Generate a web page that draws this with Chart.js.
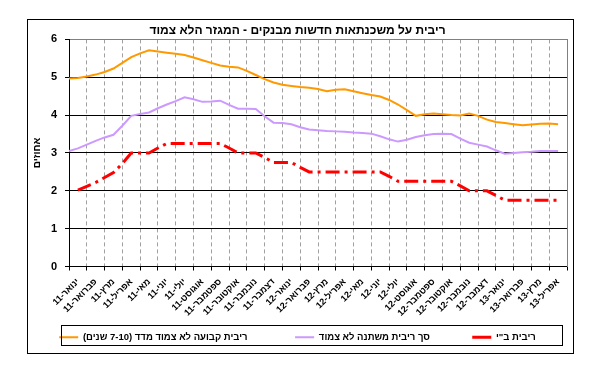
<!DOCTYPE html>
<html>
<head>
<meta charset="utf-8">
<script src="https://cdn.jsdelivr.net/npm/chart.js@4.4.1/dist/chart.umd.min.js"></script>
<style>
    html, body { margin: 0; padding: 0; background: #fff; }
    #wrap { position: relative; width: 602px; height: 372px; }
    #wrap canvas { position: absolute; left: 0; top: 0; }
    #frame { position: absolute; left: 27px; top: 19px; width: 547px; height: 335px; border: 1px solid #000; box-sizing: border-box; }
    #legendFrame { position: absolute; left: 61px; top: 325px; width: 502px; height: 21px; border: 1px solid #000; box-sizing: border-box; }
</style>
</head>
<body>
<div id="wrap">
    <canvas id="rateChart" width="602" height="372"></canvas>
    <div id="frame"></div>
    <div id="legendFrame"></div>
</div>
<script>
// Month categories (x axis)
const months = [
    'ינואר-11','פברואר-11','מרץ-11','אפריל-11','מאי-11','יוני-11','יולי-11','אוגוסט-11',
    'ספטמבר-11','אוקטובר-11','נובמבר-11','דצמבר-11','ינואר-12','פברואר-12','מרץ-12','אפריל-12',
    'מאי-12','יוני-12','יולי-12','אוגוסט-12','ספטמבר-12','אוקטובר-12','נובמבר-12','דצמבר-12',
    'ינואר-13','פברואר-13','מרץ-13','אפריל-13'
];

const seriesNames = ['ריבית קבועה לא צמוד מדד (7-10 שנים)', 'סך ריבית משתנה לא צמוד', 'ריבית ב"י'];

// readings twice a month, first one at the start of ינואר-11
const fixedRate = [
    4.97,4.98,5.02,5.07,5.14,5.23,5.38,5.53,5.63,5.71,
    5.68,5.65,5.62,5.59,5.52,5.45,5.38,5.31,5.28,5.26,
    5.17,5.06,4.95,4.86,4.80,4.77,4.74,4.72,4.69,4.63,
    4.67,4.68,4.63,4.58,4.53,4.49,4.40,4.28,4.13,3.98,
    4.02,4.04,4.02,4.00,3.99,4.04,3.98,3.88,3.82,3.79,
    3.76,3.73,3.75,3.77,3.78,3.76
];
const variableRate = [
    3.05,3.12,3.22,3.32,3.41,3.48,3.72,3.98,4.03,4.07,
    4.18,4.28,4.37,4.47,4.42,4.35,4.36,4.38,4.27,4.17,
    4.17,4.16,3.97,3.80,3.79,3.76,3.68,3.62,3.60,3.58,
    3.57,3.56,3.54,3.53,3.51,3.44,3.36,3.30,3.35,3.42,
    3.47,3.50,3.51,3.50,3.38,3.27,3.22,3.17,3.07,2.98,
    3.00,3.02,3.03,3.05,3.05,3.05
];
const boiRate = [
    null,2.02,2.12,2.22,2.35,2.48,2.72,3.00,3.00,3.00,
    3.13,3.25,3.25,3.25,3.25,3.25,3.25,3.25,3.13,3.00,
    3.00,3.00,2.88,2.75,2.75,2.75,2.62,2.50,2.50,2.50,
    2.50,2.50,2.50,2.50,2.50,2.50,2.38,2.25,2.25,2.25,
    2.25,2.25,2.25,2.25,2.13,2.00,2.00,2.00,1.88,1.75,
    1.75,1.75,1.75,1.75,1.75,1.75
];

const yMin = 0, yMax = 6, yStep = 1;

document.addEventListener('DOMContentLoaded', () => {
    const toPoints = arr => arr.map((v, i) => ({ x: i / 2, y: v }));
    const font = "Arial, 'Liberation Sans', sans-serif";
    Chart.defaults.font.family = font;
    Chart.defaults.color = '#000';

    // ticks at every month boundary (grid) and every month middle (label)
    const xTicks = [];
    for (let i = 0; i <= months.length; i++) {
        xTicks.push(i);
        if (i < months.length) xTicks.push(i + 0.5);
    }
    const isEdge = v => Number.isInteger(v);

    const gaps = [' '.repeat(15), ' '.repeat(13), ''];

    new Chart(document.getElementById('rateChart'), {
        type: 'line',
        data: {
            datasets: [
                { label: seriesNames[0], data: toPoints(fixedRate), borderColor: '#FF9900', borderWidth: 2 },
                { label: seriesNames[1], data: toPoints(variableRate), borderColor: '#CC99FF', borderWidth: 2 },
                { label: seriesNames[2], data: toPoints(boiRate), borderColor: '#FF0000', borderWidth: 3,
                  borderDash: [14, 5, 3, 5], borderCapStyle: 'butt' }
            ]
        },
        options: {
            responsive: false,
            animation: false,
            devicePixelRatio: 1,
            elements: { point: { radius: 0 }, line: { tension: 0, fill: false } },
            layout: { padding: { left: 28, right: 35, top: 23, bottom: 20 } },
            plugins: {
                tooltip: { enabled: false },
                title: {
                    display: true,
                    text: 'ריבית על משכנתאות חדשות מבנקים - המגזר הלא צמוד',
                    font: { size: 12, weight: 'bold' },
                    color: '#000',
                    padding: { top: 0, bottom: 2 }
                },
                legend: {
                    position: 'bottom',
                    textDirection: 'rtl',
                    labels: {
                        usePointStyle: true,
                        pointStyle: 'line',
                        pointStyleWidth: 19,
                        padding: 8,
                        font: { size: 9.5, weight: 'bold' },
                        color: '#000',
                        generateLabels: chart => {
                            const items = Chart.defaults.plugins.legend.labels.generateLabels(chart);
                            items.forEach((it, i) => {
                                it.lineDash = [];
                                it.text = gaps[i] + it.text;
                            });
                            return items;
                        }
                    }
                }
            },
            scales: {
                x: {
                    type: 'linear',
                    min: 0,
                    max: months.length,
                    afterBuildTicks: s => { s.ticks = xTicks.map(v => ({ value: v })); },
                    afterFit: s => { s.height = 58; },
                    ticks: {
                        autoSkip: false,
                        minRotation: 45,
                        maxRotation: 45,
                        padding: 6,
                        font: { size: 9, weight: 'bold' },
                        callback: v => isEdge(v) ? '' : months[Math.floor(v)]
                    },
                    grid: {
                        color: c => (c.tick && isEdge(c.tick.value) && c.tick.value > 0 && c.tick.value < months.length) ? '#a0a0a0' : 'transparent',
                        tickColor: c => (c.tick && isEdge(c.tick.value)) ? '#000' : 'transparent',
                        tickLength: 4
                    },
                    border: { color: '#000', dash: [4, 3] }
                },
                y: {
                    min: yMin,
                    max: yMax,
                    afterFit: s => { s.width = 41; },
                    ticks: { stepSize: yStep, padding: 8, font: { size: 11, weight: 'bold' } },
                    grid: {
                        color: c => (c.tick && c.tick.value === yMax) ? '#808080' : '#000',
                        tickColor: '#000',
                        tickLength: 4
                    },
                    border: { color: '#000' },
                    title: {
                        display: true,
                        text: 'אחוזים',
                        font: { size: 10, weight: 'bold' },
                        padding: { top: 3, bottom: 0 }
                    }
                },
                y2: {
                    position: 'right',
                    display: true,
                    min: yMin,
                    max: yMax,
                    afterFit: s => { s.width = 0; },
                    ticks: { display: false },
                    grid: { drawOnChartArea: false, drawTicks: false },
                    border: { color: '#808080' }
                }
            }
        }
    });
});
</script>
</body>
</html>
